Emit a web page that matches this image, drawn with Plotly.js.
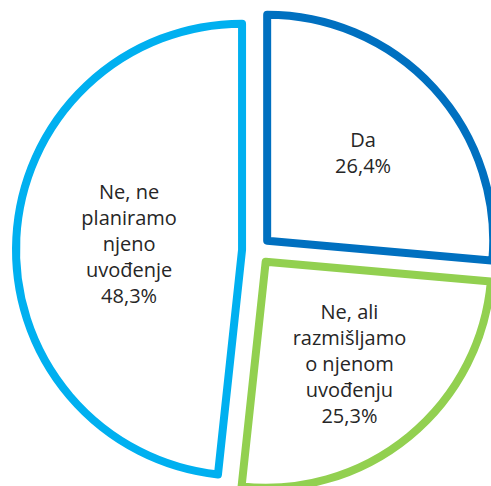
<!DOCTYPE html>
<html>
<head>
<meta charset="utf-8">
<script src="https://cdn.plot.ly/plotly-3.0.1.min.js"></script>
<style>
html,body{margin:0;padding:0;overflow:hidden;background:#fff;width:491px;height:486px;}
#chart{width:500px;height:500px;}
.pielayer path.surface{stroke-linejoin:round;}
</style>
</head>
<body>
<div id="chart"></div>
<script>
const labels = ["Da", "Ne, ali<br>razmišljamo<br>o njenom<br>uvođenju", "Ne, ne<br>planiramo<br>njeno<br>uvođenje"];
const values = [26.4, 25.3, 48.3];
const lineColors = ["#0070c0", "#92d050", "#00b0f0"];

const trace = {
  type: "pie",
  labels: labels,
  values: values,
  sort: false,
  direction: "clockwise",
  rotation: 0,
  pull: 0.064,
  marker: {colors: ["#ffffff", "#ffffff", "#ffffff"], line: {color: lineColors, width: 8}},
  texttemplate: "%{label}<br>%{percent:.1%}",
  textposition: "inside",
  insidetextorientation: "horizontal",
  textfont: {family: "Open Sans", size: 20, color: "#262626"},
  hoverinfo: "none",
  showlegend: false
};

const layout = {
  width: 500,
  height: 500,
  margin: {l: 16, r: 3, t: 10, b: 9},
  separators: ",.",
  paper_bgcolor: "#ffffff",
  showlegend: false
};

Plotly.newPlot("chart", [trace], layout, {displayModeBar: false, staticPlot: true});
</script>
</body>
</html>
